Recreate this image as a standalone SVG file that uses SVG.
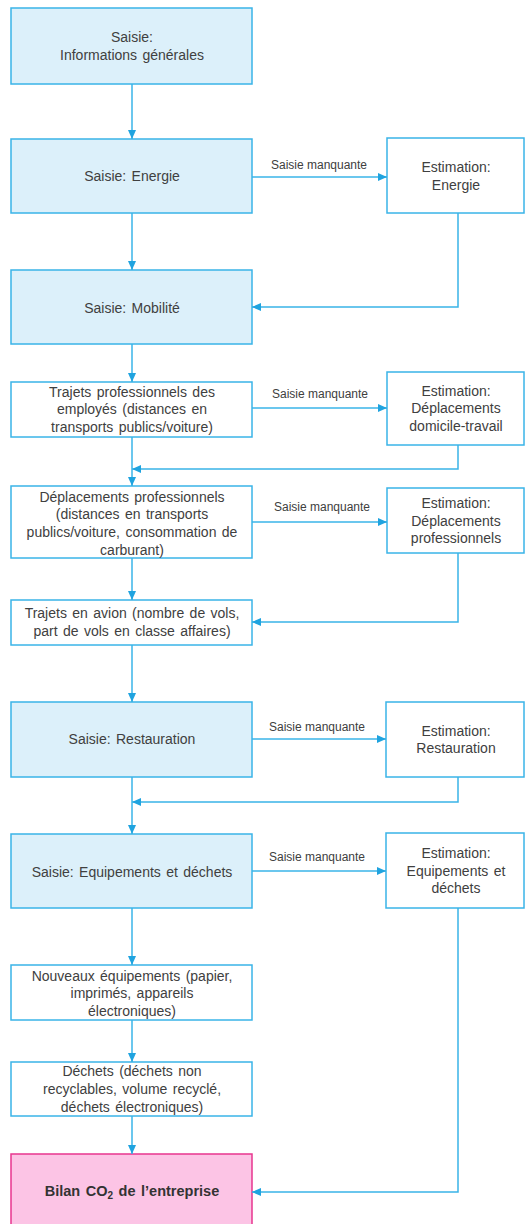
<svg xmlns="http://www.w3.org/2000/svg" width="525" height="1224" viewBox="0 0 525 1224">
<style>
.in{fill:#dcf0fa;stroke:#3ab4e8;stroke-width:1.5}
.wb{fill:#ffffff;stroke:#3ab4e8;stroke-width:1.5}
.pk{fill:#fcc4e5;stroke:#e8368f;stroke-width:1.5}
text{font-family:"Liberation Sans",Arial,sans-serif;font-size:14px;fill:#404040;text-anchor:middle;word-spacing:1.5px}
text.lbl{font-size:12px;word-spacing:0}
text.b{font-weight:bold;fill:#333333;font-size:14.5px}
.c path{fill:none;stroke:#3ab4e8;stroke-width:1.5;marker-end:url(#ah)}
</style>
<defs>
<marker id="ah" viewBox="0 0 10 10" refX="10" refY="5" markerWidth="9" markerHeight="8" markerUnits="userSpaceOnUse" orient="auto" preserveAspectRatio="none">
<path d="M0,0 L10,5 L0,10 z" fill="#1fa3df"/>
</marker>
</defs>
<rect width="525" height="1224" fill="#ffffff"/>

<g id="n-info">
<rect class="in" x="11" y="8" width="241" height="76"/>
<text x="132" y="42">Saisie:</text>
<text x="132" y="60">Informations  générales</text>
</g>
<g id="n-energie">
<rect class="in" x="11" y="139" width="241" height="74"/>
<text x="132" y="181">Saisie: Energie</text>
</g>
<g id="n-est-energie">
<rect class="wb" x="387" y="138" width="137" height="75"/>
<text x="456" y="172">Estimation:</text>
<text x="456" y="190">Energie</text>
</g>
<g id="n-mobilite">
<rect class="in" x="11" y="270" width="241" height="74"/>
<text x="132" y="313">Saisie: Mobilité</text>
</g>
<g id="n-trajets">
<rect class="wb" x="11" y="382" width="241" height="55"/>
<text x="132" y="397">Trajets professionnels des</text>
<text x="132" y="414">employés (distances en</text>
<text x="132" y="432">transports publics/voiture)</text>
</g>
<g id="n-est-domicile">
<rect class="wb" x="387" y="372" width="137" height="73"/>
<text x="456" y="396">Estimation:</text>
<text x="456" y="413">Déplacements</text>
<text x="456" y="431">domicile-travail</text>
</g>
<g id="n-deplacements">
<rect class="wb" x="11" y="486" width="241" height="72"/>
<text x="132" y="502">Déplacements professionnels</text>
<text x="132" y="519">(distances en transports</text>
<text x="132" y="537">publics/voiture, consommation de</text>
<text x="132" y="555">carburant)</text>
</g>
<g id="n-est-pro">
<rect class="wb" x="387" y="488" width="137" height="65"/>
<text x="456" y="508">Estimation:</text>
<text x="456" y="526">Déplacements</text>
<text x="456" y="543">professionnels</text>
</g>
<g id="n-avion">
<rect class="wb" x="11" y="600" width="241" height="45"/>
<text x="132" y="618">Trajets en avion (nombre de vols,</text>
<text x="132" y="636">part de vols en classe affaires)</text>
</g>
<g id="n-restauration">
<rect class="in" x="11" y="702" width="241" height="75"/>
<text x="132" y="744">Saisie: Restauration</text>
</g>
<g id="n-est-restauration">
<rect class="wb" x="386" y="702" width="138" height="75"/>
<text x="456" y="736">Estimation:</text>
<text x="456" y="753">Restauration</text>
</g>
<g id="n-equipements">
<rect class="in" x="11" y="834" width="241" height="74"/>
<text x="132" y="877">Saisie: Equipements et déchets</text>
</g>
<g id="n-est-equipements">
<rect class="wb" x="386" y="833" width="138" height="75"/>
<text x="456" y="858">Estimation:</text>
<text x="456" y="876">Equipements et</text>
<text x="456" y="893">déchets</text>
</g>
<g id="n-nouveaux">
<rect class="wb" x="11" y="965" width="241" height="55"/>
<text x="132" y="981">Nouveaux équipements (papier,</text>
<text x="132" y="998">imprimés, appareils</text>
<text x="132" y="1016">électroniques)</text>
</g>
<g id="n-dechets">
<rect class="wb" x="11" y="1062" width="241" height="54"/>
<text x="132" y="1076">Déchets (déchets non</text>
<text x="132" y="1094">recyclables, volume recyclé,</text>
<text x="132" y="1112">déchets électroniques)</text>
</g>
<g id="n-bilan">
<rect class="pk" x="11" y="1154" width="241" height="72"/>
<text class="b" x="132" y="1196">Bilan CO<tspan font-size="10" dy="3">2</tspan><tspan dy="-3"> de l’entreprise</tspan></text>
</g>

<g id="connectors" class="c">
<path d="M132,84 V139"/>
<path d="M132,213 V270"/>
<path d="M252,177 H387"/>
<path d="M458,213 V307 H252"/>
<path d="M132,344 V382"/>
<path d="M252,408 H387"/>
<path d="M458,445 V469 H132"/>
<path d="M132,437 V486"/>
<path d="M252,522 H387"/>
<path d="M458,553 V622 H252"/>
<path d="M132,558 V600"/>
<path d="M132,645 V702"/>
<path d="M252,739 H386"/>
<path d="M458,777 V802 H132"/>
<path d="M132,777 V834"/>
<path d="M252,871 H386"/>
<path d="M458,908 V1192 H252"/>
<path d="M132,908 V965"/>
<path d="M132,1020 V1062"/>
<path d="M132,1116 V1154"/>
</g>
<g id="labels">
<text class="lbl" x="319" y="169">Saisie manquante</text>
<text class="lbl" x="320" y="398">Saisie manquante</text>
<text class="lbl" x="322" y="511">Saisie manquante</text>
<text class="lbl" x="317" y="731">Saisie manquante</text>
<text class="lbl" x="317" y="861">Saisie manquante</text>
</g>
</svg>
